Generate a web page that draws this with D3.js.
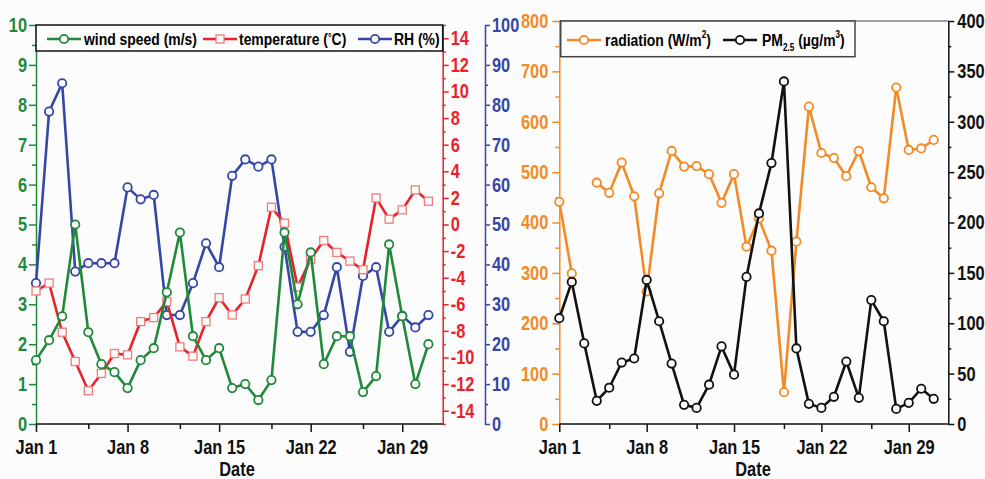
<!DOCTYPE html>
<html>
<head>
<meta charset="utf-8">
<script src="https://cdn.jsdelivr.net/npm/d3@7"></script>
<style>
body { margin: 0; background: #fcfcfc; }
svg text { font-family: 'Liberation Sans', Arial, sans-serif; font-weight: bold; }
</style>
</head>
<body>
<div id="vis"></div>
<script>
// data, January, one value per day
var days = [1, 2, 3, 4, 5, 6, 7, 8, 9, 10, 11, 12, 13, 14, 15, 16,
    17, 18, 19, 20, 21, 22, 23, 24, 25, 26, 27, 28, 29, 30, 31];
var majorDays = [1, 8, 15, 22, 29];
var minorDays = [5, 12, 19, 26];

var windSpeed = [1.6, 2.1, 2.7, 5.0, 2.3, 1.5, 1.3, 0.9, 1.6, 1.9, 3.3, 4.8, 2.2, 1.6, 1.9, 0.9,
    1.0, 0.6, 1.1, 4.8, 3.0, 4.3, 1.5, 2.2, 2.2, 0.8, 1.2, 4.5, 2.7, 1.0, 2.0];
var temperature = [-5.0, -4.4, -8.1, -10.3, -12.5, -11.2, -9.7, -9.8, -7.3, -7.0, -5.8, -9.2, -9.9, -7.3, -5.5, -6.8,
    -5.6, -3.1, 1.3, 0.1, -4.7, -2.6, -1.2, -2.1, -2.75, -3.4, 2.0, 0.4, 1.1, 2.6, 1.75];
var rh = [35.3, 78.3, 85.4, 38.2, 40.3, 40.3, 40.3, 59.3, 56.3, 57.4, 27.3, 27.3, 35.3, 45.3, 39.3, 62.2,
    66.3, 64.5, 66.3, 44.4, 23.1, 23.1, 27.3, 39.3, 18.1, 37.1, 39.3, 23.1, 27.1, 24.2, 27.3];
var radiation = [441, 299, null, 479, 459, 519, 452, 263, 458, 542, 511, 512, 496, 439, 496, 352,
    408, 344, 63, 362, 630, 538, 528, 492, 542, 470, 448, 668, 544, 547, 564];
var pm25 = [105, 141, 80, 23, 36, 61, 65, 143, 102, 60, 19, 16, 39, 77, 49, 146,
    209, 259, 340, 75, 20, 16, 27, 62, 26, 123, 102, 15, 21, 35, 25];

var colors = {
    green: '#21893a',
    red: '#e82229',
    redLight: '#f07b7b',
    blue: '#3547a6',
    orange: '#f28b26',
    black: '#111111'
};

// horizontal squeeze, no narrow font installed
var SX = 0.82;

function condense(sel)
{
    sel.each(function()
    {
        var t = d3.select(this);
        var x = +t.attr('x') || 0;
        t.attr('x', x / SX).attr('transform', 'scale(' + SX + ',1)');
    });
}

function jan(d)
{
    return new Date(2017, 0, d);
}

function series(values)
{
    return days.map(function(d, i) { return { date: jan(d), v: values[i] }; });
}

function styleAxis(g, color)
{
    g.selectAll('path').attr('stroke', color).attr('stroke-width', 1.5);
    g.selectAll('line').attr('stroke', color).attr('stroke-width', 1.5);
    g.selectAll('text').attr('fill', color).style('font-size', '20px').call(condense);
}

function drawLine(g, x, y, values, color, marker, markerColor)
{
    var data = series(values);
    var line = d3.line()
        .defined(function(d) { return d.v !== null; })
        .x(function(d) { return x(d.date); })
        .y(function(d) { return y(d.v); });

    g.append('path')
        .datum(data)
        .attr('fill', 'none')
        .attr('stroke', color)
        .attr('stroke-width', 2.6)
        .attr('stroke-linejoin', 'round')
        .attr('d', line);

    var pts = data.filter(function(d) { return d.v !== null; });
    if(marker === 'square')
    {
        g.selectAll(null).data(pts).enter()
            .append('rect')
            .attr('x', function(d) { return x(d.date) - 4; })
            .attr('y', function(d) { return y(d.v) - 4; })
            .attr('width', 8).attr('height', 8)
            .attr('fill', '#fcfcfc')
            .attr('stroke', markerColor || color)
            .attr('stroke-width', 1.3);
    }
    else
    {
        g.selectAll(null).data(pts).enter()
            .append('circle')
            .attr('cx', function(d) { return x(d.date); })
            .attr('cy', function(d) { return y(d.v); })
            .attr('r', 4.2)
            .attr('fill', '#fcfcfc')
            .attr('stroke', markerColor || color)
            .attr('stroke-width', 1.8);
    }
}

function legendItem(g, x0, y0, color, marker, markerColor)
{
    g.append('line')
        .attr('x1', x0).attr('x2', x0 + 34)
        .attr('y1', y0).attr('y2', y0)
        .attr('stroke', color).attr('stroke-width', 2.6);
    if(marker === 'square')
    {
        g.append('rect')
            .attr('x', x0 + 13).attr('y', y0 - 4)
            .attr('width', 8).attr('height', 8)
            .attr('fill', '#fcfcfc').attr('stroke', markerColor).attr('stroke-width', 1.3);
    }
    else
    {
        g.append('circle')
            .attr('cx', x0 + 17).attr('cy', y0).attr('r', 4.2)
            .attr('fill', '#fcfcfc').attr('stroke', color).attr('stroke-width', 1.8);
    }
}

function bottomAxis(svg, x, yPos, left, right, labelX)
{
    var major = svg.append('g')
        .attr('transform', 'translate(0,' + yPos + ')')
        .call(d3.axisBottom(x)
            .tickValues(majorDays.map(jan))
            .tickFormat(d3.timeFormat('%b %-d'))
            .tickSize(8).tickPadding(8));
    major.select('.domain').remove();
    styleAxis(major, colors.black);

    var minor = svg.append('g')
        .attr('transform', 'translate(0,' + yPos + ')')
        .call(d3.axisBottom(x).tickValues(minorDays.map(jan)).tickFormat('').tickSize(5));
    minor.select('.domain').remove();
    styleAxis(minor, colors.black);

    svg.append('line')
        .attr('x1', left).attr('x2', right)
        .attr('y1', yPos).attr('y2', yPos)
        .attr('stroke', colors.black).attr('stroke-width', 1.5);

    svg.append('text')
        .attr('x', labelX).attr('y', 476)
        .attr('text-anchor', 'middle')
        .style('font-size', '20px')
        .attr('fill', colors.black)
        .text('Date')
        .call(condense);
}

function numLabel(d)
{
    return String(d);
}

function drawLeft(svg)
{
    var left = 36, right = 442.7, top = 25, bottom = 424;
    var x = d3.scaleTime().domain([jan(1), jan(31)]).range([left, left + 30 * 13.08]);
    var yWind = d3.scaleLinear().domain([0, 10]).range([bottom, top]);
    var yTemp = d3.scaleLinear().domain([-15, 15]).range([bottom, top]);
    var yRH = d3.scaleLinear().domain([0, 100]).range([bottom, top]);

    // green axis
    var gW = svg.append('g').attr('transform', 'translate(' + left + ',0)')
        .call(d3.axisLeft(yWind).ticks(10).tickFormat(numLabel).tickSize(7).tickPadding(2).tickSizeOuter(0));
    styleAxis(gW, colors.green);
    var gWm = svg.append('g').attr('transform', 'translate(' + left + ',0)')
        .call(d3.axisLeft(yWind).tickValues(d3.range(0.5, 10, 1)).tickFormat('').tickSize(4).tickSizeOuter(0));
    gWm.select('.domain').remove();
    styleAxis(gWm, colors.green);

    // red axis
    var gT = svg.append('g').attr('transform', 'translate(' + right + ',0)')
        .call(d3.axisRight(yTemp).tickValues(d3.range(-14, 15, 2)).tickFormat(numLabel).tickSize(6).tickPadding(2).tickSizeOuter(0));
    styleAxis(gT, colors.red);
    var gTm = svg.append('g').attr('transform', 'translate(' + right + ',0)')
        .call(d3.axisRight(yTemp).tickValues(d3.range(-15, 16, 2)).tickFormat('').tickSize(3).tickSizeOuter(0));
    gTm.select('.domain').remove();
    styleAxis(gTm, colors.red);

    // blue axis
    var gR = svg.append('g').attr('transform', 'translate(485,0)')
        .call(d3.axisRight(yRH).ticks(10).tickFormat(numLabel).tickSize(5).tickPadding(2).tickSizeOuter(0));
    styleAxis(gR, colors.blue);
    var gRm = svg.append('g').attr('transform', 'translate(485,0)')
        .call(d3.axisRight(yRH).tickValues(d3.range(5, 100, 10)).tickFormat('').tickSize(3).tickSizeOuter(0));
    gRm.select('.domain').remove();
    styleAxis(gRm, colors.blue);

    bottomAxis(svg, x, bottom, left, right, 237);

    var plot = svg.append('g');
    drawLine(plot, x, yRH, rh, colors.blue, 'circle');
    drawLine(plot, x, yTemp, temperature, colors.red, 'square', colors.redLight);
    drawLine(plot, x, yWind, windSpeed, colors.green, 'circle');

    // legend
    var lg = svg.append('g');
    lg.append('rect')
        .attr('x', left).attr('y', top)
        .attr('width', right - left).attr('height', 26)
        .attr('fill', '#fcfcfc').attr('stroke', colors.black).attr('stroke-width', 1.5);
    legendItem(lg, 47, 39, colors.green, 'circle');
    legendItem(lg, 203, 39, colors.red, 'square', colors.redLight);
    legendItem(lg, 358, 39, colors.blue, 'circle');
    var t1 = lg.append('text').attr('x', 84).attr('y', 45).style('font-size', '17px');
    t1.text('wind speed (m/s)');
    var t2 = lg.append('text').attr('x', 239).attr('y', 45).style('font-size', '17px');
    t2.append('tspan').text('temperature (');
    t2.append('tspan').style('font-size', '11px').attr('dy', -4).text('\u00b0');
    t2.append('tspan').attr('dy', 4).text('C)');
    var t3 = lg.append('text').attr('x', 394).attr('y', 45).style('font-size', '17px');
    t3.text('RH (%)');
    lg.selectAll('text').call(condense);
}

function drawRight(svg)
{
    var left = 559.3, right = 948.3, top = 21, bottom = 424;
    var x = d3.scaleTime().domain([jan(1), jan(31)]).range([left, left + 30 * 12.48]);
    var yRad = d3.scaleLinear().domain([0, 800]).range([bottom, top]);
    var yPM = d3.scaleLinear().domain([0, 400]).range([bottom, top]);

    var gA = svg.append('g').attr('transform', 'translate(' + left + ',0)')
        .call(d3.axisLeft(yRad).ticks(8).tickFormat(numLabel).tickSize(7).tickPadding(4).tickSizeOuter(0));
    styleAxis(gA, colors.orange);
    var gAm = svg.append('g').attr('transform', 'translate(' + left + ',0)')
        .call(d3.axisLeft(yRad).tickValues(d3.range(50, 800, 100)).tickFormat('').tickSize(4).tickSizeOuter(0));
    gAm.select('.domain').remove();
    styleAxis(gAm, colors.orange);

    var gP = svg.append('g').attr('transform', 'translate(' + right + ',0)')
        .call(d3.axisRight(yPM).ticks(8).tickFormat(numLabel).tickSize(6).tickPadding(3).tickSizeOuter(0));
    styleAxis(gP, colors.black);
    var gPm = svg.append('g').attr('transform', 'translate(' + right + ',0)')
        .call(d3.axisRight(yPM).tickValues(d3.range(25, 400, 50)).tickFormat('').tickSize(3).tickSizeOuter(0));
    gPm.select('.domain').remove();
    styleAxis(gPm, colors.black);

    bottomAxis(svg, x, bottom, left, right, 753);

    // top frame
    svg.append('line')
        .attr('x1', left).attr('x2', right)
        .attr('y1', top).attr('y2', top)
        .attr('stroke', '#444').attr('stroke-width', 1.2);

    var plot = svg.append('g');
    drawLine(plot, x, yRad, radiation, colors.orange, 'circle');
    drawLine(plot, x, yPM, pm25, colors.black, 'circle');

    var lg = svg.append('g');
    lg.append('rect')
        .attr('x', 560.7).attr('y', top)
        .attr('width', 855 - 560.7).attr('height', 35.7)
        .attr('fill', '#fcfcfc').attr('stroke', '#444').attr('stroke-width', 1.5);
    legendItem(lg, 567, 40, colors.orange, 'circle');
    legendItem(lg, 723, 40, colors.black, 'circle');
    var t1 = lg.append('text').attr('x', 605).attr('y', 46).style('font-size', '17px');
    t1.append('tspan').text('radiation (W/m');
    t1.append('tspan').style('font-size', '10px').attr('dy', -8).text('2');
    t1.append('tspan').attr('dy', 8).text(')');
    var t2 = lg.append('text').attr('x', 762).attr('y', 46).style('font-size', '17px');
    t2.append('tspan').text('PM');
    t2.append('tspan').style('font-size', '10px').attr('dy', 5).text('2.5');
    t2.append('tspan').attr('dy', -5).text(' (\u00b5g/m');
    t2.append('tspan').style('font-size', '10px').attr('dy', -8).text('3');
    t2.append('tspan').attr('dy', 8).text(')');
    lg.selectAll('text').call(condense);
}

window.onload = function()
{
    var svg = d3.select('#vis')
        .append('svg')
            .attr('width', 985)
            .attr('height', 479);
    svg.append('rect').attr('width', 985).attr('height', 479).attr('fill', '#fcfcfc');

    drawLeft(svg);
    drawRight(svg);
};
</script>
</body>
</html>
